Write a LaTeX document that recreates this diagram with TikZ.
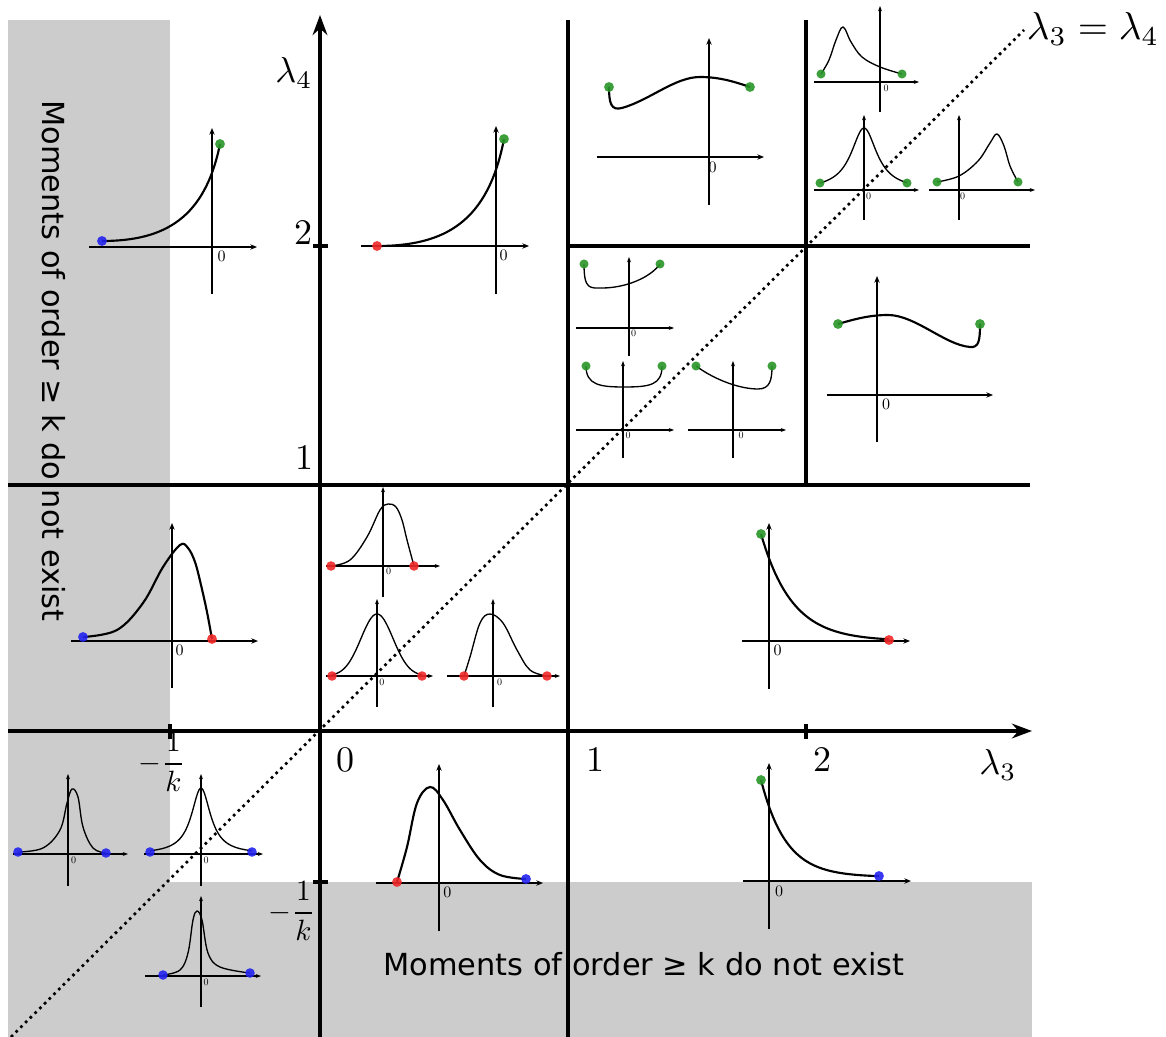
\documentclass[tikz,border=0pt]{standalone}
\usepackage{amsmath}
\usepackage{fontspec}
\newfontfamily\notefont{DejaVu Sans}
\usepackage{tikz}
\usetikzlibrary{arrows.meta}

\definecolor{dotblue}{RGB}{35,35,240}
\definecolor{dotred}{RGB}{240,40,40}
\definecolor{dotgreen}{RGB}{40,150,40}
\definecolor{greyzone}{RGB}{204,204,204}

\tikzset{
  mainaxis/.style={line width=2.5pt,-{Stealth[length=15pt,width=11pt]}},
  gridline/.style={line width=2.5pt},
  diagline/.style={line width=2pt,dash pattern=on 2pt off 3pt},
  bigaxis/.style={line width=1.1pt,-{Stealth[length=5pt,width=4pt]}},
  smallaxis/.style={line width=0.8pt,-{Stealth[length=4pt,width=3pt]}},
  bigcurve/.style={line width=1.6pt},
  smallcurve/.style={line width=1pt},
  bluedot/.style={fill=dotblue,fill opacity=0.9},
  reddot/.style={fill=dotred,fill opacity=0.9},
  greendot/.style={fill=dotgreen,fill opacity=0.9},
  zerolabel/.style={inner sep=0pt,scale=1.2},
  smallzero/.style={inner sep=0pt,scale=0.75},
  axislabel/.style={inner sep=0pt,scale=2.7},
  numlabel/.style={inner sep=0pt,scale=2.7},
  fraclabel/.style={inner sep=0pt,scale=2.2},
  notetext/.style={inner sep=0pt,font=\notefont\fontsize{22.8}{27}\selectfont}
}

\begin{document}
\begin{tikzpicture}[x=0.75pt,y=-0.75pt]
  \useasboundingbox (0,0) rectangle (1166,1037);

  % regions without moments
  \fill[greyzone] (8,20) rectangle (170,882);
  \fill[greyzone] (8,882) rectangle (1032,1037);
  \node[notetext,rotate=-90,anchor=base] (leftnote) at (42,361) {Moments of order ≥ k do not exist};
  \node[notetext,anchor=base] (bottomnote) at (644,975) {Moments of order ≥ k do not exist};

  % grid and axes
  \draw[gridline] (8,485) -- (1030,485);
  \draw[gridline] (568,246) -- (1030,246);
  \draw[gridline] (568,20) -- (568,1037);
  \draw[gridline] (806,20) -- (806,485);
  \draw[gridline] (170,724) -- (170,739);
  \draw[gridline] (806,724) -- (806,739);
  \draw[gridline] (313,246) -- (328,246);
  \draw[gridline] (313,882) -- (328,882);
  \draw[mainaxis] (8,731) -- (1032,731);
  \draw[mainaxis] (320,1037) -- (320,15);
  \draw[diagline] (11,1037) -- (1024,30);

  \node[axislabel] (lamfour) at (294,73) {$\lambda_4$};
  \node[numlabel] (ytwo) at (303,233) {$2$};
  \node[numlabel] (yone) at (304,458) {$1$};
  \node[numlabel] (xzero) at (345,760) {$0$};
  \node[numlabel] (xone) at (595,760) {$1$};
  \node[numlabel] (xtwo) at (822,760) {$2$};
  \node[axislabel] (lamthree) at (998,765) {$\lambda_3$};
  \node[fraclabel] (xinvk) at (162,762) {$-\dfrac{1}{k}$};
  \node[fraclabel] (yinvk) at (292,911) {$-\dfrac{1}{k}$};
  \node[axislabel,scale=1.08] (diaglabel) at (1093,29) {$\lambda_3=\lambda_4$};

  % A
  \draw[bigaxis] (89,247) -- (257,247);
  \draw[bigaxis] (212,294) -- (212,128);
  \draw[bigcurve] (102,241) .. controls (165,241) and (205,218) .. (220,144);
  \fill[bluedot] (102,241) circle[radius=3.7pt];
  \fill[greendot] (220,144) circle[radius=3.7pt];
  \node[zerolabel] (zeroA) at (221.7,256.7) {$0$};

  % B
  \draw[bigaxis] (361,246) -- (529,246);
  \draw[bigaxis] (496,294) -- (496,126);
  \draw[bigcurve] (377,246) .. controls (445,246) and (488,222) .. (504,139);
  \fill[reddot] (377,246) circle[radius=3.7pt];
  \fill[greendot] (504,139) circle[radius=3.7pt];
  \node[zerolabel] (zeroB) at (503.7,255.7) {$0$};

  % C
  \draw[bigaxis] (597,157) -- (764,157);
  \draw[bigaxis] (709,205) -- (709,38);
  \draw[bigcurve] (609,87) .. controls (609,103) and (611,111) .. (622,108)
    .. controls (650,100) and (675,77) .. (700,77)
    .. controls (720,77) and (735,82) .. (750,87);
  \fill[greendot] (609,87) circle[radius=3.7pt];
  \fill[greendot] (750,87) circle[radius=3.7pt];
  \node[zerolabel] (zeroC) at (712.5,167) {$0$};

  % D
  \draw[smallaxis] (814,82) -- (919,82);
  \draw[smallaxis] (880,112) -- (880,6);
  \draw[smallcurve] plot[smooth,tension=0.6] coordinates {(821,74) (829,60) (836,40) (843,27) (851,42) (862,57) (880,67) (902,74)};
  \fill[greendot] (821,74) circle[radius=3.4pt];
  \fill[greendot] (902,74) circle[radius=3.4pt];
  \node[smallzero] (zeroD) at (886,88) {$0$};

  % E
  \draw[smallaxis] (814,190) -- (919,190);
  \draw[smallaxis] (864,220) -- (864,115);
  \draw[smallcurve] plot[domain=820:907,samples=80] (\x,{190-62/(1+((\x-864)/15.7)^2)});
  \fill[greendot] (820,183) circle[radius=3.4pt];
  \fill[greendot] (907,183) circle[radius=3.4pt];
  \node[smallzero] (zeroE) at (868.5,196) {$0$};

  % F
  \draw[smallaxis] (929,190) -- (1035,190);
  \draw[smallaxis] (959,220) -- (959,115);
  \draw[smallcurve] plot[smooth,tension=0.6] coordinates {(937,182) (959,176) (978,161) (990,143) (997,134) (1004,146) (1010,166) (1018,182)};
  \fill[greendot] (937,182) circle[radius=3.4pt];
  \fill[greendot] (1018,182) circle[radius=3.4pt];
  \node[smallzero] (zeroF) at (962.5,196) {$0$};

  % G
  \draw[smallaxis] (576,328) -- (674,328);
  \draw[smallaxis] (629,356) -- (629,257);
  \draw[smallcurve] (584,264) .. controls (584,290) and (590,288) .. (602,288)
    .. controls (625,288) and (650,278) .. (660,264);
  \fill[greendot] (584,264) circle[radius=3.4pt];
  \fill[greendot] (660,264) circle[radius=3.4pt];
  \node[smallzero] (zeroG) at (633.7,333) {$0$};

  % H
  \draw[smallaxis] (576,430) -- (674,430);
  \draw[smallaxis] (623,458) -- (623,361);
  \draw[smallcurve] (586,366) .. controls (586,385) and (600,387) .. (624,387)
    .. controls (650,387) and (662,385) .. (662,366);
  \fill[greendot] (586,366) circle[radius=3.4pt];
  \fill[greendot] (662,366) circle[radius=3.4pt];
  \node[smallzero] (zeroH) at (628,435.7) {$0$};

  % I
  \draw[smallaxis] (688,430) -- (786,430);
  \draw[smallaxis] (733,458) -- (733,361);
  \draw[smallcurve] (696,366) .. controls (715,380) and (740,389) .. (758,389)
    .. controls (770,389) and (772,380) .. (772,366);
  \fill[greendot] (696,366) circle[radius=3.4pt];
  \fill[greendot] (772,366) circle[radius=3.4pt];
  \node[smallzero] (zeroI) at (741,435.7) {$0$};

  % J
  \draw[bigaxis] (827,395) -- (993,395);
  \draw[bigaxis] (877,442) -- (877,276);
  \draw[bigcurve] (838,324) .. controls (855,319) and (870,315) .. (888,315)
    .. controls (915,315) and (945,345) .. (970,347)
    .. controls (979,348) and (980,340) .. (980,324);
  \fill[greendot] (838,324) circle[radius=3.7pt];
  \fill[greendot] (980,324) circle[radius=3.7pt];
  \node[zerolabel] (zeroJ) at (886,404.7) {$0$};

  % K
  \draw[bigaxis] (71,641) -- (258,641);
  \draw[bigaxis] (172,688) -- (172,523);
  \draw[bigcurve] plot[smooth,tension=0.6] coordinates {(83,637) (117,630) (143,603) (163,567) (180,545) (188,548) (195,562) (201,585) (207,612) (212,639)};
  \fill[bluedot] (83,637) circle[radius=3.7pt];
  \fill[reddot] (212,639) circle[radius=3.7pt];
  \node[zerolabel] (zeroK) at (179.7,650.7) {$0$};

  % L
  \draw[smallaxis] (326,566) -- (440,566);
  \draw[smallaxis] (383,597) -- (383,487);
  \draw[smallcurve] plot[smooth,tension=0.6] coordinates {(331,566) (350,560) (367,537) (380,510) (388,504) (396,507) (402,520) (407,540) (414,566)};
  \fill[reddot] (331,566) circle[radius=3.6pt];
  \fill[reddot] (414,566) circle[radius=3.6pt];
  \node[smallzero] (zeroL) at (388.5,571.7) {$0$};

  % M
  \draw[smallaxis] (326,676) -- (433,676);
  \draw[smallaxis] (377,707) -- (377,599);
  \draw[smallcurve] plot[domain=332:422,samples=80] (\x,{676-62*exp(-((\x-377)/16)^2/2)});
  \fill[reddot] (332,676) circle[radius=3.6pt];
  \fill[reddot] (422,676) circle[radius=3.6pt];
  \node[smallzero] (zeroM) at (381.8,682.3) {$0$};

  % N
  \draw[smallaxis] (447,676) -- (560,676);
  \draw[smallaxis] (493,707) -- (493,599);
  \draw[smallcurve] plot[smooth,tension=0.6] coordinates {(464,676) (470,657) (480,623) (490,614) (503,623) (517,650) (530,670) (547,676)};
  \fill[reddot] (464,676) circle[radius=3.6pt];
  \fill[reddot] (547,676) circle[radius=3.6pt];
  \node[smallzero] (zeroN) at (499.5,682.3) {$0$};

  % O
  \draw[smallaxis] (13,854) -- (128,854);
  \draw[smallaxis] (68,886) -- (68,774);
  \draw[smallcurve] plot[smooth,tension=0.6] coordinates {(18,852) (43,848) (60,830) (67,803) (72,789) (78,797) (83,827) (93,848) (106,853)};
  \fill[bluedot] (18,852) circle[radius=3.6pt];
  \fill[bluedot] (106,853) circle[radius=3.6pt];
  \node[smallzero] (zeroO) at (73.5,860.7) {$0$};

  % P
  \draw[smallaxis] (144,854) -- (263,854);
  \draw[smallaxis] (201,886) -- (201,774);
  \draw[smallcurve] plot[domain=150:252,samples=80] (\x,{854-66/(1+((\x-201)/11.6)^2)});
  \fill[bluedot] (150,852) circle[radius=3.6pt];
  \fill[bluedot] (252,852) circle[radius=3.6pt];
  \node[smallzero] (zeroP) at (206.2,860.7) {$0$};

  % Q
  \draw[smallaxis] (145,976) -- (261,976);
  \draw[smallaxis] (201,1007) -- (201,896);
  \draw[smallcurve] plot[smooth,tension=0.6] coordinates {(163,975) (180,970) (188,953) (193,920) (197,911) (202,920) (208,953) (220,967) (250,973)};
  \fill[bluedot] (163,975) circle[radius=3.6pt];
  \fill[bluedot] (250,973) circle[radius=3.6pt];
  \node[smallzero] (zeroQ) at (206.2,982.7) {$0$};

  % R
  \draw[bigaxis] (376,883) -- (543,883);
  \draw[bigaxis] (439,931) -- (439,764);
  \draw[bigcurve] plot[smooth,tension=0.6] coordinates {(397,882) (407,847) (417,803) (430,787) (443,800) (460,830) (480,860) (500,875) (526,879)};
  \fill[reddot] (397,882) circle[radius=3.7pt];
  \fill[bluedot] (526,879) circle[radius=3.7pt];
  \node[zerolabel] (zeroR) at (447.3,892.5) {$0$};

  % S
  \draw[bigaxis] (742,641) -- (910,641);
  \draw[bigaxis] (769,689) -- (769,523);
  \draw[bigcurve] plot[domain=761:889,samples=80] (\x,{641-107*exp(-(\x-761)/31)});
  \fill[greendot] (761,534) circle[radius=3.7pt];
  \fill[reddot] (889,640) circle[radius=3.7pt];
  \node[zerolabel] (zeroS) at (777.7,650) {$0$};

  % T
  \draw[bigaxis] (743,881) -- (911,881);
  \draw[bigaxis] (769,929) -- (769,763);
  \draw[bigcurve] plot[domain=761:879,samples=80] (\x,{877-97*exp(-(\x-761)/25)});
  \fill[greendot] (761,780) circle[radius=3.7pt];
  \fill[bluedot] (879,876) circle[radius=3.7pt];
  \node[zerolabel] (zeroT) at (779.2,891.7) {$0$};
\end{tikzpicture}
\end{document}
